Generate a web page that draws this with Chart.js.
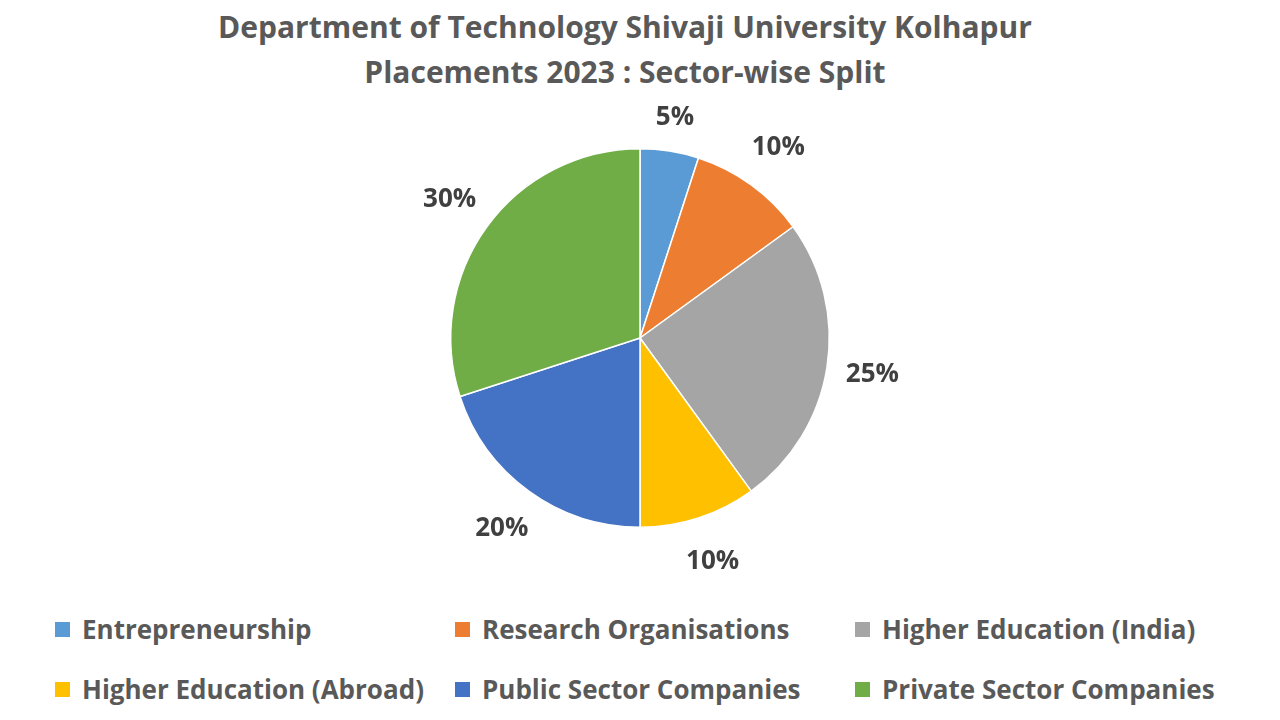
<!DOCTYPE html>
<html>
<head>
<meta charset="utf-8">
<script src="https://cdn.jsdelivr.net/npm/chart.js@4"></script>
<style>
  body { margin: 0; width: 1280px; height: 720px; background: #fff; position: relative; overflow: hidden; font-family: "Open Sans", "Liberation Sans", sans-serif; }
  #title { position: absolute; top: 4px; left: 0; width: 1250px; text-align: center; font-weight: bold; font-size: 30px; line-height: 45px; color: #595959; }
  #wrap { position: absolute; left: 0; top: 100px; width: 1280px; height: 476px; }
  .leg { position: absolute; font-size: 26px; font-weight: bold; color: #595959; display: flex; align-items: center; white-space: nowrap; }
  .leg span.box { width: 15px; height: 15px; display: inline-block; margin-right: 12px; }
</style>
</head>
<body>
<div id="title">Department of Technology Shivaji University Kolhapur<br>Placements 2023 : Sector-wise Split</div>
<div id="wrap"><canvas id="c"></canvas></div>
<div id="legend"></div>
<script>
const labels = ['Entrepreneurship', 'Research Organisations', 'Higher Education (India)',
                'Higher Education (Abroad)', 'Public Sector Companies', 'Private Sector Companies'];
const values = [5, 10, 25, 10, 20, 30];
const colors = ['#5B9BD5', '#ED7D31', '#A5A5A5', '#FFC000', '#4472C4', '#70AD47'];

// legend laid out as in the original: 3 columns, 2 rows
const legCols = [55, 455, 855];
const legRows = [629, 689];
const legend = document.getElementById('legend');
labels.forEach((l, i) => {
    const d = document.createElement('div');
    d.className = 'leg';
    d.style.left = legCols[i % 3] + 'px';
    d.style.top = (legRows[Math.floor(i / 3)] - 18) + 'px';
    d.innerHTML = '<span class="box" style="background:' + colors[i] + '"></span>' + l;
    legend.appendChild(d);
});

// percent labels outside each slice
const outsideLabels = {
    id: 'outsideLabels',
    afterDatasetsDraw(chart) {
        const ctx = chart.ctx;
        ctx.save();
        ctx.font = 'bold 26px "Open Sans", "Liberation Sans", sans-serif';
        ctx.fillStyle = '#404040';
        ctx.textAlign = 'center';
        ctx.textBaseline = 'middle';
        chart.getDatasetMeta(0).data.forEach((arc, i) => {
            const mid = (arc.startAngle + arc.endAngle) / 2;
            const r = arc.outerRadius + (values[i] === 5 ? 34 : 46);
            ctx.fillText(values[i] + '%', arc.x + Math.cos(mid) * r, arc.y + Math.sin(mid) * r);
        });
        ctx.restore();
    }
};

new Chart(document.getElementById('c').getContext('2d'), {
    type: 'pie',
    data: {
        labels: labels,
        datasets: [{ data: values, backgroundColor: colors, borderColor: '#fff', borderWidth: 1.5 }]
    },
    options: {
        responsive: true,
        maintainAspectRatio: false,
        animation: false,
        layout: { padding: 48 },
        plugins: { legend: { display: false }, tooltip: { enabled: false } }
    },
    plugins: [outsideLabels]
});
</script>
</body>
</html>
